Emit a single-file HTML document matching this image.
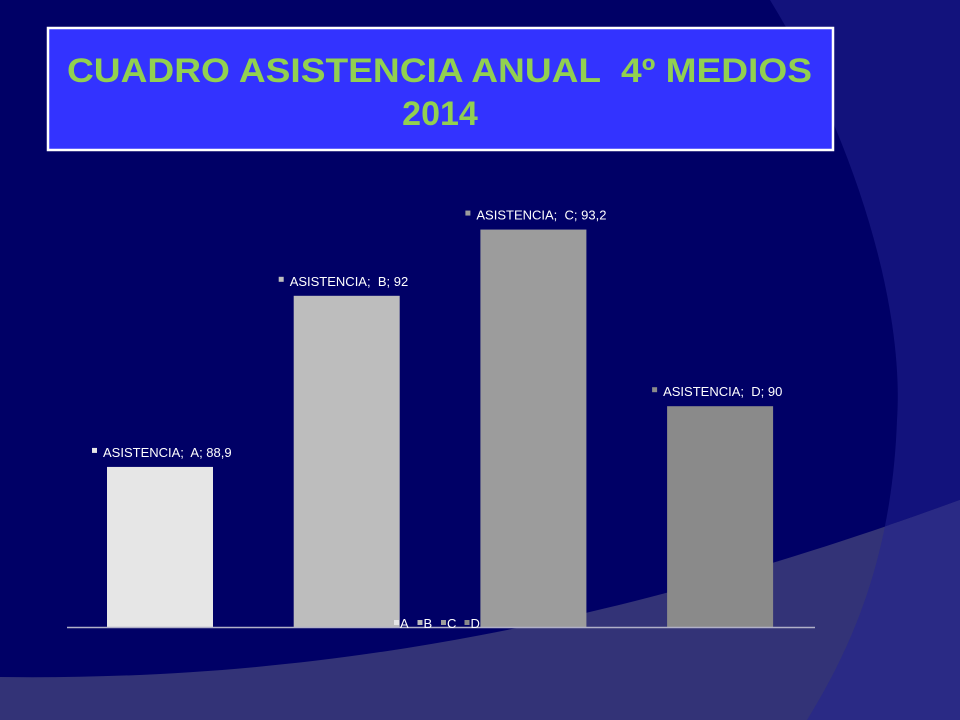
<!DOCTYPE html>
<html><head><meta charset="utf-8"><style>
body{margin:0;width:960px;height:720px;overflow:hidden;background:#000066;font-family:"Liberation Sans",sans-serif}
text{white-space:pre}
</style></head><body>
<svg width="960" height="720" style="position:absolute;left:0;top:0">
<defs><clipPath id="bandclip"><path d="M0,677 C250,680 550,650 960,500 L960,720 L0,720 Z"/></clipPath></defs>
<rect width="960" height="720" fill="#000066"/>
<path d="M770,0 C850,130 905,300 897,420 C892,560 850,650 807,720 L960,720 L960,0 Z" fill="#12127c"/>
<path d="M0,677 C250,680 550,650 960,500 L960,720 L0,720 Z" fill="#333377"/>
<path d="M770,0 C850,130 905,300 897,420 C892,560 850,650 807,720 L960,720 L960,0 Z" fill="#2a2a85" clip-path="url(#bandclip)"/>
<rect x="48" y="28" width="785" height="122" fill="#3333ff" stroke="#fff" stroke-width="2.5"/>
<text x="67" y="82" textLength="745" lengthAdjust="spacingAndGlyphs" font-size="34" font-weight="bold" fill="#92d050">CUADRO ASISTENCIA ANUAL  4º MEDIOS</text>
<text x="440" y="125" text-anchor="middle" font-size="34" font-weight="bold" fill="#92d050">2014</text>
<g id="chart"></g>
</svg>
<script>
const categories=["A","B","C","D"];
const values=[88.9,92,93.2,90];
const labels=["88,9","92","93,2","90"];
const colors=["#e6e6e6","#bdbdbd","#9c9c9c","#8a8a8a"];
const yMin=86,yMax=94,baseY=627,topY=185.4;
const y=v=>baseY-(v-yMin)/(yMax-yMin)*(baseY-topY);
const x=i=>107+i*186.7;
const g=document.getElementById('chart');
const NS="http://www.w3.org/2000/svg";
function mk(t,a){const e=document.createElementNS(NS,t);for(const k in a)e.setAttribute(k,a[k]);g.appendChild(e);return e;}
categories.forEach((c,i)=>{
 const r=mk('rect',{x:x(i),y:y(values[i]),width:106,height:baseY-y(values[i]),fill:colors[i]});
 
 
 const m=mk('rect',{x:x(i)-15,y:y(values[i])-19,width:5,height:5,fill:colors[i]});
 
 
 const t=mk('text',{x:x(i)-4,y:y(values[i])-10,'font-size':13,fill:'#fff'});
 t.textContent='ASISTENCIA;  '+c+'; '+labels[i];
 
 
});
const ax=mk('line',{x1:67,y1:627.5,x2:815,y2:627.5,stroke:'#b0b0c8','stroke-width':1.5});


categories.forEach((c,i)=>{
 const lx=394+i*23.5;
 const s=mk('rect',{x:lx,y:620,width:5,height:5,fill:colors[i]});
 
 
 const t=mk('text',{x:lx+6,y:628,'font-size':13,fill:'#fff'});
 t.textContent=c;
 
 
});
</script>
</body></html>
